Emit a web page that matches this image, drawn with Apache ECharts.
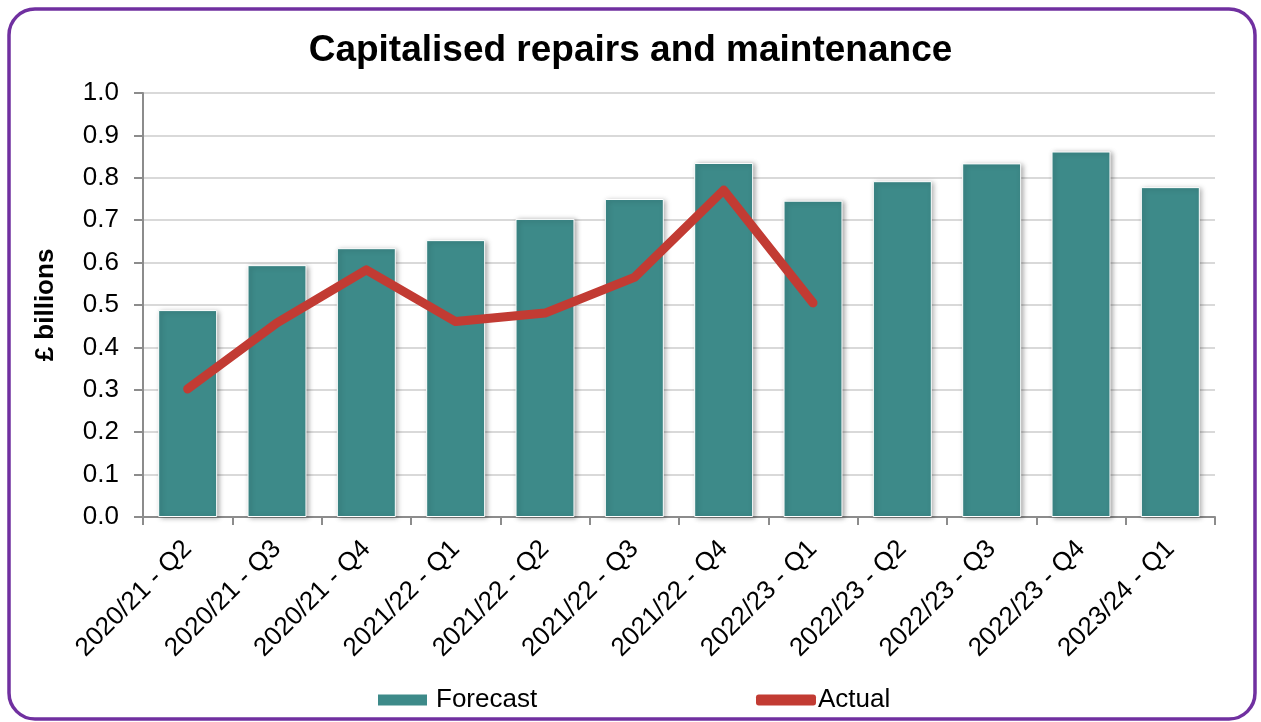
<!DOCTYPE html>
<html>
<head>
<meta charset="utf-8">
<script src="https://cdn.jsdelivr.net/npm/echarts@6/dist/echarts.min.js"></script>
<style>
  html, body { margin: 0; padding: 0; background: #ffffff; }
  #chart { width: 1261px; height: 722px; }
</style>
</head>
<body>
<div id="chart"></div>
<script>
// Quarterly capitalised repairs and maintenance, £ billions
const quarters = [
  '2020/21 - Q2', '2020/21 - Q3', '2020/21 - Q4', '2021/22 - Q1',
  '2021/22 - Q2', '2021/22 - Q3', '2021/22 - Q4', '2022/23 - Q1',
  '2022/23 - Q2', '2022/23 - Q3', '2022/23 - Q4', '2023/24 - Q1'
];
const forecast = [0.488, 0.594, 0.634, 0.653, 0.703, 0.750, 0.835, 0.746, 0.792, 0.834, 0.862, 0.778];
const actual = [0.302, 0.458, 0.583, 0.461, 0.481, 0.565, 0.771, 0.505, null, null, null, null];

const FONT = '"Liberation Sans", Arial, sans-serif';

const chart = echarts.init(document.getElementById('chart'), null, { renderer: 'canvas' });

chart.setOption({
  animation: false,
  backgroundColor: '#ffffff',
  title: {
    text: 'Capitalised repairs and maintenance',
    left: 'center',
    top: 27,
    textStyle: { fontFamily: FONT, fontSize: 37, fontWeight: 'bold', color: '#000000' }
  },
  graphic: [{
    type: 'rect',
    shape: { x: 9, y: 9, width: 1246, height: 710, r: 26 },
    style: { fill: 'none', stroke: '#7030A0', lineWidth: 3.5 },
    z: 10
  }],
  legend: [{
    data: ['Forecast'],
    left: 371,
    top: 682,
    itemWidth: 51,
    itemHeight: 13,
    icon: 'rect',
    textStyle: { fontFamily: FONT, fontSize: 26, color: '#000000', padding: [0, 0, 0, 3] }
  }, {
    data: ['Actual'],
    left: 751,
    top: 682,
    itemWidth: 60,
    itemHeight: 11,
    icon: 'roundRect',
    textStyle: { fontFamily: FONT, fontSize: 26, color: '#000000', padding: [0, 0, 0, -3] }
  }],
  grid: { left: 143, right: 46, top: 93, bottom: 205 },
  xAxis: {
    type: 'category',
    data: quarters,
    axisLine: { lineStyle: { color: '#8c8c8c', width: 2 } },
    axisTick: { show: true, length: 8, alignWithLabel: false, lineStyle: { color: '#8c8c8c', width: 2 } },
    axisLabel: {
      rotate: 45,
      interval: 0,
      margin: 28,
      fontFamily: FONT,
      fontSize: 26,
      color: '#000000'
    }
  },
  yAxis: {
    type: 'value',
    min: 0,
    max: 1,
    interval: 0.1,
    name: '£ billions',
    nameLocation: 'middle',
    nameGap: 84,
    nameTextStyle: { fontFamily: FONT, fontSize: 26, fontWeight: 'bold', color: '#000000' },
    axisLine: { show: true, lineStyle: { color: '#8c8c8c', width: 2 } },
    axisTick: { show: true, length: 9, lineStyle: { color: '#8c8c8c', width: 2 } },
    axisLabel: {
      margin: 24,
      fontFamily: FONT,
      fontSize: 26,
      color: '#000000',
      formatter: v => v.toFixed(1)
    },
    splitLine: { lineStyle: { color: '#d9d9d9', width: 2 } }
  },
  series: [{
    name: 'Forecast',
    type: 'bar',
    data: forecast,
    barWidth: '66%',
    itemStyle: {
      color: '#3D8A89',
      borderColor: '#ffffff',
      borderWidth: 1,
      shadowBlur: 5,
      shadowColor: 'rgba(0,0,0,0.35)',
      shadowOffsetX: 2,
      shadowOffsetY: 1
    }
  }, {
    name: 'Actual',
    type: 'line',
    data: actual,
    symbol: 'none',
    connectNulls: false,
    lineStyle: { color: '#C23B33', width: 9, cap: 'round', join: 'round' },
    itemStyle: { color: '#C23B33' },
    z: 5
  }]
});
</script>
</body>
</html>
